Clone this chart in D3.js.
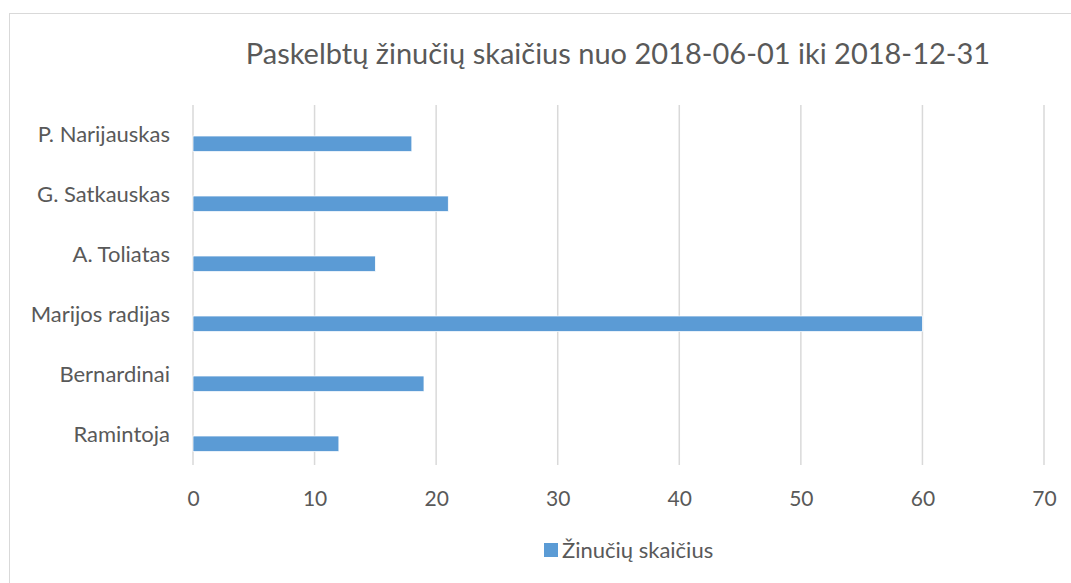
<!DOCTYPE html>
<html>
<head>
<meta charset="utf-8">
<script src="https://cdn.jsdelivr.net/npm/d3@7"></script>
<style>
  body { margin: 0; background: #fff; }
  text { font-family: Lato, "Open Sans", sans-serif; fill: #595959; }
</style>
</head>
<body>
<svg id="chart" width="1071" height="583"></svg>
<script>
// data
let categories = ['P. Narijauskas', 'G. Satkauskas', 'A. Toliatas', 'Marijos radijas', 'Bernardinai', 'Ramintoja'];
let values = [18, 21, 15, 60, 19, 12];
let ticks = [0, 10, 20, 30, 40, 50, 60, 70];
let seriesName = 'Žinučių skaičius';
let title = 'Paskelbtų žinučių skaičius nuo 2018-06-01 iki 2018-12-31';

let svg = d3.select('#chart');
let plotLeft = 193, plotRight = 1044, plotTop = 105, plotBottom = 465;

// chart frame
svg.append('rect')
  .attr('x', 9.5).attr('y', 13.5)
  .attr('width', 1100).attr('height', 600)
  .attr('fill', 'none').attr('stroke', '#d9d9d9');

let x = d3.scaleLinear().domain([0, 70]).range([plotLeft, plotRight]);
let y = d3.scaleBand().domain(categories).range([plotTop, plotBottom]).padding(0);
// bars sit just below the category centre (like an excel cluster with an empty slot)
let barH = y.bandwidth() * 0.26;

// gridlines
svg.append('g').selectAll('line')
  .data(ticks).enter().append('line')
  .attr('x1', d => x(d)).attr('x2', d => x(d))
  .attr('y1', plotTop).attr('y2', plotBottom)
  .attr('stroke', '#d9d9d9').attr('stroke-width', 1.5);

// bars
svg.append('g').selectAll('rect')
  .data(values).enter().append('rect')
  .attr('x', x(0))
  .attr('y', (d, i) => y(categories[i]) + y.bandwidth() / 2 + 1)
  .attr('width', d => x(d) - x(0))
  .attr('height', barH)
  .attr('fill', '#5b9bd5')
  .attr('stroke', '#fff').attr('stroke-width', 0.75);

// x axis labels
let xAxis = svg.append('g')
  .attr('transform', 'translate(0,' + (plotBottom + 26) + ')')
  .call(d3.axisBottom(x).tickValues(ticks).tickSize(0).tickPadding(0));
xAxis.select('.domain').remove();
xAxis.selectAll('text').attr('font-size', 21).attr('fill', '#595959').attr('font-family', 'Lato');

// y axis labels
let yAxis = svg.append('g')
  .attr('transform', 'translate(' + (plotLeft - 23) + ',0)')
  .call(d3.axisLeft(y).tickSize(0).tickPadding(0));
yAxis.select('.domain').remove();
yAxis.selectAll('text').attr('font-size', 22).attr('fill', '#595959').attr('font-family', 'Lato');

// title
svg.append('text')
  .attr('x', 618).attr('y', 64)
  .attr('text-anchor', 'middle')
  .attr('font-size', 29)
  .text(title);

// legend
svg.append('rect')
  .attr('x', 544).attr('y', 543).attr('width', 14).attr('height', 14)
  .attr('fill', '#5b9bd5');
svg.append('text')
  .attr('x', 562).attr('y', 558)
  .attr('font-size', 22)
  .text(seriesName);
</script>
</body>
</html>
